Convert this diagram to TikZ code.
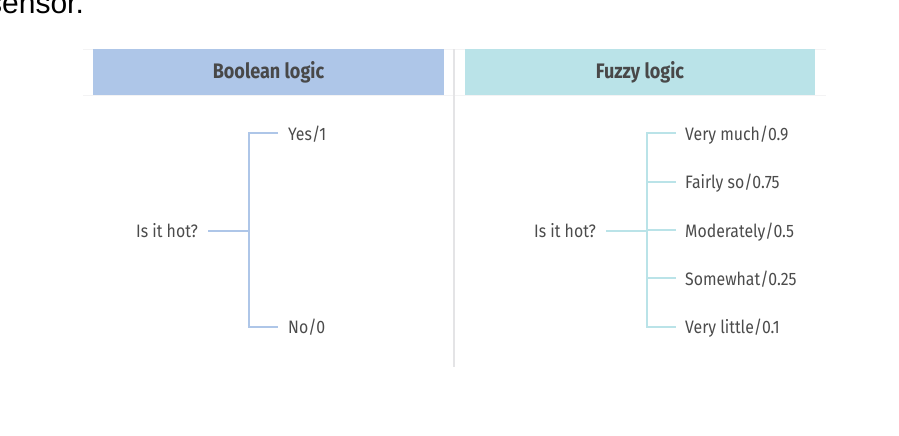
\documentclass[tikz,border=0pt]{standalone}
\usepackage{fontspec}
\setmainfont{Fira Sans}[FakeStretch=0.88]
\newfontfamily\headfont[FakeStretch=0.86]{Fira Sans Bold}
\newfontfamily\pagefont{Liberation Sans}
\usetikzlibrary{positioning}
\usepackage{xcolor}
\definecolor{boolblue}{RGB}{174,198,232}
\definecolor{fuzzycyan}{RGB}{186,227,232}
\definecolor{textgray}{RGB}{75,75,75}
\definecolor{headgray}{RGB}{72,72,72}
\definecolor{rulegray}{RGB}{228,228,230}
\tikzset{headbox/.style={rectangle, inner sep=0pt, minimum height=46pt, text=headgray, font=\headfont\fontsize{21}{24}\selectfont},
answer/.style={inner sep=0pt, text=textgray, text height=1.4em, text depth=0pt, font=\fontsize{18}{21}\selectfont}}
\tikzset{boolline/.style={draw=boolblue, line width=2pt},
fuzzyline/.style={draw=fuzzycyan, line width=2pt}}

\begin{document}
\begin{tikzpicture}[x=1pt, y=-1pt]
        \useasboundingbox (0,0) rectangle (899,436);
        \clip (0,0) rectangle (899,436);
        % Text of the page above
        \node[anchor=base west, inner sep=0pt, font=\pagefont\fontsize{30}{32}\selectfont] (pagetext) at (-13,14) {sensor.};
        % Rules and divider
        \draw[rulegray!45, line width=0.8pt] (83,49) -- (826,49);
        \draw[rulegray!45, line width=0.8pt] (83,95) -- (826,95);
        \draw[rulegray, line width=1.2pt] (454,49) -- (454,367);
        % Headers
        \node[headbox, fill=boolblue, minimum width=351pt] (boolhead) at (268.5,72) {Boolean logic};
        \node[headbox, fill=fuzzycyan, minimum width=350pt] (fuzzyhead) at (640,72) {Fuzzy logic};
        % Boolean logic
        \node[answer, anchor=east] (boolq) at (198,230.5) {Is it hot?};
        \coordinate (boolfork) at (249,230.5);
        \node[answer, anchor=west] (bool1) at (288,133.3) {Yes/1};
        \node[answer, anchor=west] (bool2) at (288,326.7) {No/0};
        \draw[boolline] ([xshift=10pt]boolq.east) -- (boolfork);
        \draw[boolline] ([xshift=-10pt]bool1.west) -| (boolfork) |- ([xshift=-10pt]bool2.west);
        % Fuzzy logic
        \node[answer, anchor=east] (fuzzyq) at (596,230.5) {Is it hot?};
        \coordinate (fuzzyfork) at (647,230.5);
        \foreach \ans [count=\i] in {Very much/0.9, Fairly so/0.75, Moderately/0.5, Somewhat/0.25, Very little/0.1} {
            \node[answer, anchor=west] (fuzzy\i) at (685, 85+48.35*\i) {\ans};
        }
        \draw[fuzzyline] ([xshift=10pt]fuzzyq.east) -- (fuzzyfork);
        \draw[fuzzyline] ([xshift=-9pt]fuzzy1.west) -| (fuzzyfork) |- ([xshift=-9pt]fuzzy5.west);
        \foreach \i in {2,3,4} {
            \draw[fuzzyline] ([xshift=-9pt]fuzzy\i.west) -- (fuzzyfork |- fuzzy\i.west);
        }
    \end{tikzpicture}
\end{document}
